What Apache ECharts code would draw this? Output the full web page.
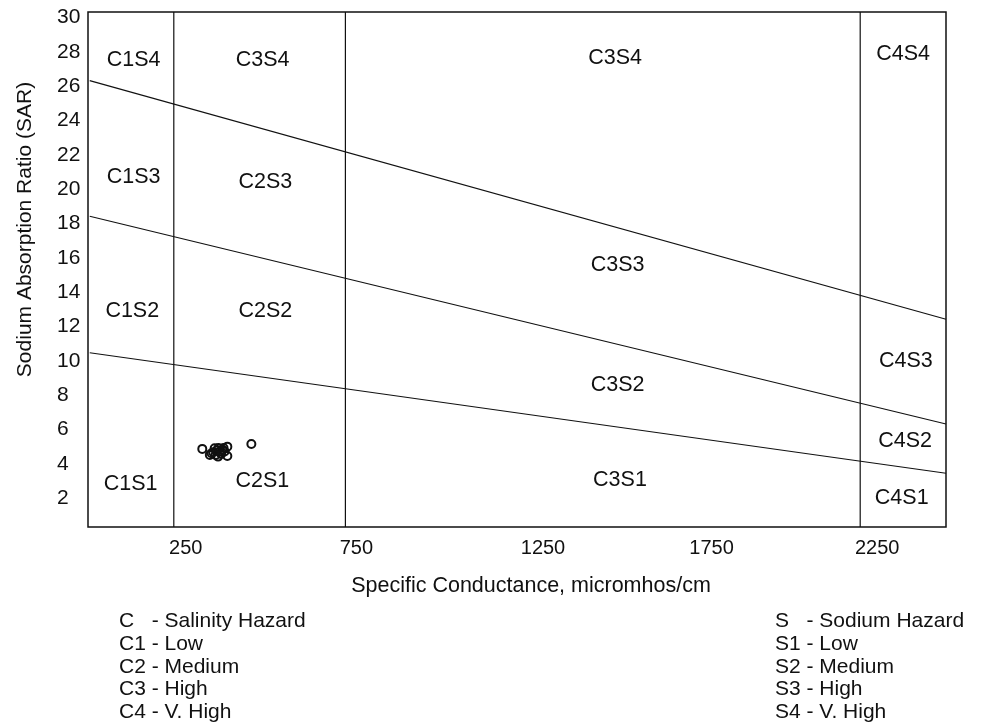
<!DOCTYPE html>
<html>
<head>
<meta charset="utf-8">
<script src="https://cdn.jsdelivr.net/npm/echarts@6/dist/echarts.min.js"></script>
<style>
  html, body { margin: 0; padding: 0; background: #fff; }
  #chart { width: 984px; height: 726px; }
</style>
</head>
<body>
<div id="chart"></div>
<script>
// Axis tick labels
const xTickValues = [250, 750, 1250, 1750, 2250];
const yTickValues = [2, 4, 6, 8, 10, 12, 14, 16, 18, 20, 22, 24, 26, 28, 30];

// Salinity class boundaries (specific conductance, micromhos/cm)
const salinityBounds = [250, 750, 2250];

// Sodium hazard boundaries: [conductance, SAR] end points
const s3s4Line = [[5, 26.0], [2500, 12.1]];
const s2s3Line = [[5, 18.1], [2500, 6.0]];
const s1s2Line = [[5, 10.15], [2500, 3.13]];

// Zone labels and their anchor points
const zoneNames = ['C1S4', 'C3S4', 'C3S4', 'C4S4', 'C1S3', 'C2S3', 'C3S3', 'C4S3',
                   'C1S2', 'C2S2', 'C3S2', 'C4S2', 'C1S1', 'C2S1', 'C3S1', 'C4S1'];
const zoneX = [133, 509, 1536, 2375, 133, 517, 1543, 2383,
               129, 517, 1543, 2381, 124, 508, 1550, 2371];
const zoneY = [27.2, 27.2, 27.3, 27.55, 20.4, 20.1, 15.23, 9.64,
               12.55, 12.55, 8.24, 5.01, 2.49, 2.68, 2.74, 1.67];

// Water samples: conductance and SAR
const sampleEC = [333, 476, 406, 406, 360, 369, 384, 379, 355, 375, 392, 365, 388, 398, 372, 395, 380];
const sampleSAR = [4.55, 4.84, 4.68, 4.14, 4.30, 4.59, 4.39, 4.10, 4.20, 4.45, 4.50, 4.35, 4.25, 4.40, 4.20, 4.60, 4.60];

// Class descriptions
const salinityLegend = ['C   - Salinity Hazard', 'C1 - Low', 'C2 - Medium', 'C3 - High', 'C4 - V. High'];
const sodiumLegend = ['S   - Sodium Hazard', 'S1 - Low', 'S2 - Medium', 'S3 - High', 'S4 - V. High'];

const FONT = '"Liberation Sans", Arial, Helvetica, sans-serif';
const INK = '#111111';

// Horizontal nudges of the conductance labels (px)
const xLabelNudge = { 250: 12, 750: 11, 1250: 26, 1750: 23, 2250: 17 };
const xLabelRich = {};
xTickValues.forEach(function (v) {
  xLabelRich['t' + v] = {
    color: INK, fontFamily: FONT, fontSize: 20,
    padding: [0, 0, 0, 2 * xLabelNudge[v]]
  };
});

const chart = echarts.init(document.getElementById('chart'), null, { renderer: 'canvas' });

const series = [];

salinityBounds.forEach(function (v) {
  series.push({
    type: 'line',
    data: [[v, 0], [v, 30]],
    symbol: 'none',
    silent: true,
    lineStyle: { color: INK, width: 1.2 },
    z: 2
  });
});

[s3s4Line, s2s3Line, s1s2Line].forEach(function (seg) {
  series.push({
    type: 'line',
    data: seg,
    symbol: 'none',
    silent: true,
    lineStyle: { color: INK, width: 1.2 },
    z: 2
  });
});

series.push({
  type: 'scatter',
  data: zoneNames.map(function (n, i) { return { name: n, value: [zoneX[i], zoneY[i]] }; }),
  symbolSize: 0,
  silent: true,
  itemStyle: { opacity: 1 },
  label: {
    show: true,
    position: 'inside',
    formatter: '{b}',
    color: INK,
    opacity: 1,
    fontFamily: FONT,
    fontSize: 21.5
  },
  z: 3
});

series.push({
  type: 'scatter',
  data: sampleEC.map(function (x, i) { return [x, sampleSAR[i]]; }),
  symbol: 'circle',
  symbolSize: 8,
  itemStyle: { color: 'rgba(0,0,0,0)', borderColor: '#111', borderWidth: 2, opacity: 1 },
  z: 4
});

const option = {
  backgroundColor: '#ffffff',
  animation: false,
  grid: {
    left: 88, right: 38, top: 12, bottom: 199,
    show: true, borderColor: INK, borderWidth: 1.5,
    containLabel: false, outerBoundsMode: 'none'
  },
  xAxis: {
    type: 'value',
    min: 0, max: 2500,
    name: 'Specific Conductance, micromhos/cm',
    nameLocation: 'middle',
    nameGap: 48,
    nameTextStyle: { color: INK, fontFamily: FONT, fontSize: 21.5, padding: [0, 0, 0, 28] },
    axisLine: { show: false },
    axisTick: { show: false },
    splitLine: { show: false },
    axisLabel: {
      customValues: xTickValues,
      color: INK, fontFamily: FONT, fontSize: 20,
      margin: 11,
      formatter: function (v) { return '{t' + v + '|' + v + '}'; },
      rich: xLabelRich
    }
  },
  yAxis: {
    type: 'value',
    min: 0, max: 30,
    name: 'Sodium Absorption Ratio (SAR)',
    nameLocation: 'middle',
    nameRotate: 90,
    nameGap: 52,
    nameTextStyle: { color: INK, fontFamily: FONT, fontSize: 21, padding: [0, 0, 0, 80] },
    axisLine: { show: false },
    axisTick: { show: false },
    splitLine: { show: false },
    axisLabel: {
      customValues: yTickValues,
      color: INK, fontFamily: FONT, fontSize: 21,
      align: 'left',
      margin: 31,
      formatter: function (v) { return '{s|' + v + '}'; },
      rich: {
        s: { color: INK, fontFamily: FONT, fontSize: 21, padding: [11, 0, 0, 0] }
      }
    }
  },
  title: [
    {
      text: salinityLegend.join('\n'),
      left: 119, top: 610, padding: 0,
      textStyle: { color: INK, fontFamily: FONT, fontSize: 21, fontWeight: 'normal', lineHeight: 22.75 }
    },
    {
      text: sodiumLegend.join('\n'),
      left: 775, top: 610, padding: 0,
      textStyle: { color: INK, fontFamily: FONT, fontSize: 21, fontWeight: 'normal', lineHeight: 22.75 }
    }
  ],
  series: series
};

chart.setOption(option);
</script>
</body>
</html>
